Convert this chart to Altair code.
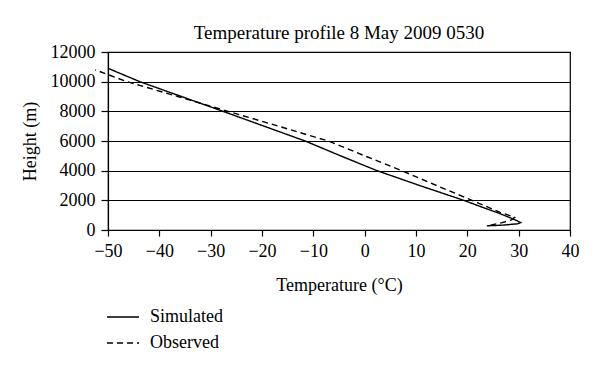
import altair as alt
import pandas as pd

# Simulated profile (temperature °C, height m), ordered from surface upward
sim_temp = [23.8, 27.0, 29.8, 30.4, 29.5, 28.3, 26.4, 22.8, 19.3, 10.7, 2.4, -4.7, -11.6, -19.6, -27.6, -35.7, -43.8, -50.0]
sim_height = [280, 330, 420, 500, 650, 830, 1100, 1550, 2000, 3000, 4000, 5000, 6000, 7000, 8000, 9000, 10000, 10900]

# Observed profile
obs_temp = [24.5, 26.8, 28.6, 29.2, 28.0, 26.4, 22.5, 20.9, 14.0, 7.2, 0.0, -7.1, -16.8, -26.6, -36.4, -46.3, -52.5]
obs_height = [330, 500, 680, 850, 1000, 1190, 1760, 2000, 3000, 4000, 5000, 6000, 7000, 8000, 9000, 10000, 10800]

series = ["Simulated", "Observed"]
x_ticks = [-50, -40, -30, -20, -10, 0, 10, 20, 30, 40]
y_ticks = [0, 2000, 4000, 6000, 8000, 10000, 12000]

rows = []
for i, (t, h) in enumerate(zip(sim_temp, sim_height)):
    rows.append({"series": series[0], "temp": t, "height": h, "idx": i})
for i, (t, h) in enumerate(zip(obs_temp, obs_height)):
    rows.append({"series": series[1], "temp": t, "height": h, "idx": i})
df = pd.DataFrame(rows)

FONT = "Liberation Serif"

chart = alt.Chart(df).mark_line(strokeWidth=1.4, color="black", clip=False).encode(
    x=alt.X("temp:Q", scale=alt.Scale(domain=[-50, 40], nice=False, zero=False),
            axis=alt.Axis(values=x_ticks, title="Temperature (°C)", grid=False, format="d",
                          labelFlush=False, tickSize=6, labelPadding=6, titlePadding=16)),
    y=alt.Y("height:Q", scale=alt.Scale(domain=[0, 12000], nice=False),
            axis=alt.Axis(values=y_ticks, title="Height (m)", grid=True, format="d",
                          labelFlush=False, tickSize=7, labelPadding=6, titlePadding=11)),
    strokeDash=alt.StrokeDash("series:N",
                              scale=alt.Scale(domain=series, range=[[1, 0], [6, 4]]),
                              legend=alt.Legend(title=None, orient="none", legendX=-2, legendY=248,
                                                symbolType="stroke", symbolSize=1024,
                                                symbolStrokeColor="black", symbolStrokeWidth=1.4,
                                                labelFont=FONT, labelFontSize=18, labelColor="black",
                                                rowPadding=-1, padding=0, labelOffset=10)),
    order="idx:Q",
    detail="series:N",
).properties(
    width=462,
    height=178,
    title=alt.TitleParams("Temperature profile 8 May 2009 0530", font=FONT, fontSize=19,
                          fontWeight="normal", color="black", anchor="middle", offset=0),
    padding={"left": 100, "top": 44, "right": 22, "bottom": 135},
    autosize=alt.AutoSizeParams(type="none"),
).configure(
    background="white"
).configure_view(
    stroke="black", strokeWidth=1.2
).configure_axis(
    domainColor="black", domainWidth=1.2, tickColor="black", tickWidth=1.2,
    gridColor="black", gridWidth=1.2, gridOpacity=1,
    labelFont=FONT, labelFontSize=18, labelColor="black",
    titleFont=FONT, titleFontSize=18, titleFontWeight="normal", titleColor="black",
)

chart.save("out.html", embed_options={"renderer": "svg", "actions": False})
